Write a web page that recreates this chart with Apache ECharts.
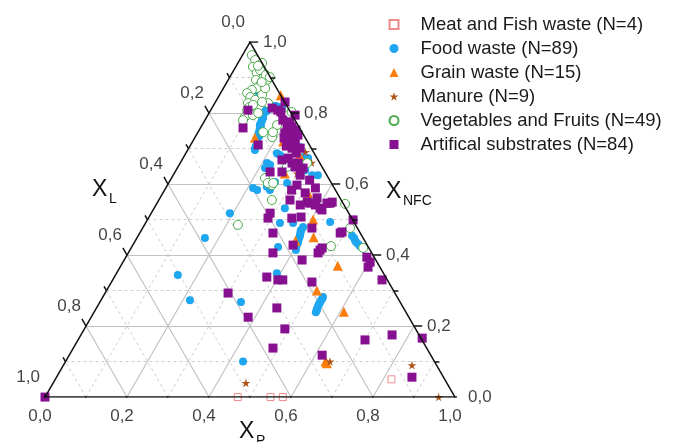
<!DOCTYPE html>
<html>
<head>
<meta charset="utf-8">
<script src="https://cdn.jsdelivr.net/npm/echarts@6/dist/echarts.min.js"></script>
<style>
  html, body { margin: 0; padding: 0; background: #fff; }
  #chart { width: 674px; height: 442px; }
</style>
</head>
<body>
<div id="chart"></div>
<script>
// Ternary compositions, each point stored as [X_P, X_NFC]; X_L = 1 - X_P - X_NFC.
const meatFish = [[0.47, 0], [0.55, 0], [0.58, 0], [0.82, 0.05]];

const foodWaste = [
  [0.155, 0.724], [0.154, 0.732], [0.15, 0.741], [0.148, 0.749], [0.145, 0.758], [0.141, 0.766],
  [0.14, 0.775], [0.138, 0.783], [0.136, 0.792], [0.134, 0.8], [0.135, 0.808], [0.137, 0.814],
  [0.14, 0.817], [0.146, 0.82], [0.153, 0.82], [0.162, 0.817], [0.171, 0.814], [0.162, 0.715],
  [0.161, 0.707], [0.155, 0.735], [0.145, 0.763], [0.14, 0.777], [0.135, 0.803], [0.144, 0.814],
  [0.152, 0.817], [0.161, 0.814], [0.151, 0.746], [0.139, 0.786], [0.138, 0.806],
  [0.405, 0.414], [0.4, 0.425], [0.399, 0.437], [0.396, 0.448], [0.393, 0.459], [0.389, 0.47],
  [0.39, 0.479], [0.395, 0.453], [0.4, 0.431], [0.391, 0.465],
  [0.541, 0.239], [0.539, 0.248], [0.538, 0.256], [0.538, 0.265], [0.537, 0.273], [0.537, 0.282],
  [0.537, 0.262], [0.541, 0.245], [0.538, 0.276],
  [0.522, 0.454], [0.535, 0.442], [0.548, 0.431], [0.449, 0.493], [0.54, 0.437], [0.556, 0.425],
  [0.53, 0.448],
  [0.166, 0.448], [0.152, 0.344], [0.217, 0.273], [0.344, 0.268], [0.433, 0.1], [0.192, 0.518],
  [0.328, 0.49], [0.36, 0.49], [0.357, 0.423], [0.391, 0.349],
  [0.094, 0.856], [0.162, 0.7], [0.212, 0.659], [0.222, 0.654], [0.222, 0.687], [0.246, 0.668],
  [0.213, 0.589], [0.226, 0.583], [0.245, 0.592], [0.353, 0.625], [0.339, 0.625], [0.289, 0.603],
  [0.291, 0.676], [0.24, 0.676], [0.257, 0.583], [0.315, 0.639], [0.27, 0.704], [0.305, 0.673],
  [0.214, 0.645], [0.258, 0.606], [0.319, 0.532], [0.267, 0.696], [0.232, 0.682], [0.164, 0.696]
];

const grainWaste = [
  [0.15, 0.85], [0.188, 0.78], [0.147, 0.73], [0.221, 0.72], [0.281, 0.68], [0.27, 0.63],
  [0.354, 0.575], [0.404, 0.5], [0.43, 0.45], [0.391, 0.44], [0.529, 0.37], [0.513, 0.3],
  [0.609, 0.24], [0.634, 0.1], [0.64, 0.095]
];

const manure = [
  [0.47, 0.04], [0.645, 0.1], [0.85, 0.09], [0.96, 0], [0.32, 0.66], [0.3, 0.63],
  [0.226, 0.76], [0.29, 0.69], [0.25, 0.7]
];

const vegFruits = [
  [0.023, 0.963], [0.038, 0.949], [0.042, 0.93], [0.06, 0.913], [0.064, 0.921], [0.083, 0.899],
  [0.095, 0.893], [0.068, 0.893], [0.085, 0.879], [0.082, 0.87], [0.072, 0.865], [0.065, 0.856],
  [0.078, 0.845], [0.094, 0.837], [0.081, 0.828], [0.089, 0.808], [0.093, 0.789], [0.11, 0.794],
  [0.13, 0.828], [0.188, 0.732], [0.196, 0.794], [0.183, 0.766], [0.228, 0.617], [0.255, 0.597],
  [0.276, 0.555], [0.228, 0.485], [0.506, 0.476], [0.485, 0.425], [0.566, 0.42], [0.46, 0.544],
  [0.266, 0.648], [0.104, 0.851], [0.12, 0.8], [0.093, 0.78], [0.059, 0.941], [0.053, 0.933],
  [0.102, 0.87], [0.085, 0.907], [0.09, 0.817], [0.2, 0.803], [0.31, 0.659], [0.242, 0.603],
  [0.255, 0.603], [0.159, 0.746], [0.183, 0.746], [0.098, 0.901], [0.085, 0.887], [0.096, 0.823],
  [0.114, 0.831]
];

const artificial = [
  [0.17, 0.831], [0.213, 0.794], [0.147, 0.814], [0.164, 0.808], [0.19, 0.78], [0.21, 0.761],
  [0.225, 0.746], [0.213, 0.744], [0.228, 0.73], [0.239, 0.732], [0.253, 0.715], [0.252, 0.701],
  [0.244, 0.668], [0.273, 0.659], [0.288, 0.659], [0.286, 0.648], [0.307, 0.645], [0.34, 0.611],
  [0.316, 0.597], [0.31, 0.583], [0.347, 0.575], [0.365, 0.549], [0.32, 0.555], [0.383, 0.561],
  [0.415, 0.546], [0.426, 0.549], [0.405, 0.532], [0.091, 0.808], [0.104, 0.758], [0.165, 0.71],
  [0.232, 0.634], [0.261, 0.634], [0.29, 0.518], [0.292, 0.504], [0.35, 0.504], [0.373, 0.546],
  [0.412, 0.527], [0.422, 0.546], [0.413, 0.476], [0.391, 0.428], [0.325, 0.462], [0.353, 0.406],
  [0.434, 0.386], [0.464, 0.414], [0.463, 0.406], [0.489, 0.462], [0.588, 0.394], [0.603, 0.38],
  [0.605, 0.366], [0.657, 0.33], [0.372, 0.338], [0.403, 0.33], [0.415, 0.33], [0.489, 0.324],
  [0.3, 0.293], [0.44, 0.251], [0.383, 0.225], [0.489, 0.192], [0.487, 0.138], [0.617, 0.118],
  [0.7, 0.161], [0.759, 0.175], [0.837, 0.166], [0.867, 0.056], [0.502, 0.499], [0.492, 0.465],
  [0.371, 0.507], [0.466, 0.42], [0, 0],
  [0.21, 0.775], [0.222, 0.761], [0.236, 0.752], [0.248, 0.738], [0.241, 0.718], [0.235, 0.707],
  [0.272, 0.701], [0.269, 0.687], [0.257, 0.673], [0.31, 0.625], [0.365, 0.589], [0.352, 0.541],
  [0.174, 0.803], [0.218, 0.73], [0.389, 0.541]
];

// Axis ticks and their printed labels (decimal comma)
const tickValues = [0, 0.1, 0.2, 0.3, 0.4, 0.5, 0.6, 0.7, 0.8, 0.9, 1];
const tickLabels = ['0,0', '0,2', '0,4', '0,6', '0,8', '1,0'];

const FONT = '"Liberation Sans", Arial, Helvetica, sans-serif';
const H = Math.sqrt(3) / 2;

// ternary (X_P, X_NFC) -> cartesian position inside the unit triangle
function toXY(p, n) { return [p + n / 2, n * H]; }

const seriesDefs = [
  { name: 'Meat and Fish waste (N=4)', data: meatFish, symbol: 'rect', size: 7,
    style: { color: '#fff', borderColor: '#f08a8a', borderWidth: 1 } },
  { name: 'Food waste (N=89)', data: foodWaste, symbol: 'circle', size: 8,
    style: { color: '#1ea6f0' } },
  { name: 'Grain waste (N=15)', data: grainWaste, symbol: 'triangle', size: 10,
    style: { color: '#fb7d0c' } },
  { name: 'Manure (N=9)', data: manure,
    symbol: 'path://M50,0 L61,35 L98,35 L68,57 L79,91 L50,70 L21,91 L32,57 L2,35 L39,35 Z', size: 9,
    style: { color: '#b0561c' } },
  { name: 'Vegetables and Fruits (N=49)', data: vegFruits, symbol: 'circle', size: 9,
    style: { color: '#fff', borderColor: '#4cab4c', borderWidth: 1 } },
  { name: 'Artifical substrates (N=84)', data: artificial, symbol: 'rect', size: 9,
    style: { color: '#86108f' } }
];

// Grid lines: solid every 0.2, dashed in between, in the three ternary directions
const majorGrid = [], minorGrid = [];
for (let k = 1; k < 10; k++) {
  const t = k / 10;
  const bucket = k % 2 === 0 ? majorGrid : minorGrid;
  bucket.push({ coords: [toXY(0, t), toXY(1 - t, t)] });     // constant X_NFC
  bucket.push({ coords: [toXY(t, 0), toXY(t, 1 - t)] });     // constant X_P
  bucket.push({ coords: [toXY(1 - t, 0), toXY(0, 1 - t)] }); // constant X_L
}

// Triangle frame and outward ticks
const frame = [
  { coords: [toXY(0, 0), toXY(1, 0)] },
  { coords: [toXY(1, 0), toXY(0, 1)] },
  { coords: [toXY(0, 1), toXY(0, 0)] }
];
const bottomPts = [], leftPts = [], rightPts = [];
tickValues.forEach((t, i) => {
  const len = i % 2 === 0 ? 0.02 : 0.012;
  const b = toXY(t, 0);
  frame.push({ coords: [b, [b[0] - 0.5 * len, b[1] - H * len]] });
  const l = toXY(0, 1 - t);
  frame.push({ coords: [l, [l[0] - 0.5 * len, l[1] + H * len]] });
  const r = toXY(1 - t, t);
  frame.push({ coords: [r, [r[0] + len, r[1]]] });
  if (i % 2 === 0) {
    const lab = tickLabels[i / 2];
    bottomPts.push({ value: b, name: lab });
    leftPts.push({ value: l, name: lab });
    rightPts.push({ value: toXY(1 - t, t), name: lab });
  }
});

function labelSeries(data, label) {
  return {
    type: 'scatter', data, symbolSize: 1, silent: true, z: 5,
    itemStyle: { color: 'transparent' },
    label: Object.assign({ show: true, formatter: p => p.name, fontFamily: FONT,
      fontSize: 17, color: '#111' }, label)
  };
}

const series = [
  { type: 'lines', coordinateSystem: 'cartesian2d', silent: true, z: 1, data: minorGrid,
    lineStyle: { color: '#cdcdcd', width: 1, type: [3, 3], opacity: 1 } },
  { type: 'lines', coordinateSystem: 'cartesian2d', silent: true, z: 1, data: majorGrid,
    lineStyle: { color: '#c2c2c2', width: 1.2, type: 'solid', opacity: 1 } },
  { type: 'lines', coordinateSystem: 'cartesian2d', silent: true, z: 4, data: frame,
    lineStyle: { color: '#111', width: 1.5, type: 'solid', opacity: 1 } },
  labelSeries(bottomPts, { align: 'center', verticalAlign: 'middle', offset: [-5, 19] }),
  labelSeries(leftPts, { align: 'right', verticalAlign: 'middle', offset: [-5, -20] }),
  labelSeries(rightPts, { align: 'left', verticalAlign: 'middle', offset: [13, 0] })
];

seriesDefs.forEach(d => {
  series.push({
    type: 'scatter', name: d.name, z: 3,
    data: d.data.map(v => toXY(v[0], v[1])),
    symbol: d.symbol, symbolSize: d.size, symbolKeepAspect: true,
    itemStyle: Object.assign({ opacity: 1 }, d.style)
  });
});

function title(x, y, main, sub) {
  return [
    { type: 'text', x, y, style: { text: main, font: '23px ' + FONT, fill: '#111' } },
    { type: 'text', x: x + 17, y: y + 14, style: { text: sub, font: '14px ' + FONT, fill: '#111' } }
  ];
}

const chart = echarts.init(document.getElementById('chart'), null, { renderer: 'canvas' });
chart.setOption({
  animation: false,
  backgroundColor: '#fff',
  grid: { left: 45, top: 42, width: 410, height: 410 * H },
  xAxis: { type: 'value', min: 0, max: 1, show: false },
  yAxis: { type: 'value', min: 0, max: H, show: false },
  legend: {
    orient: 'vertical', left: 388.5, top: 14.5, padding: 0,
    itemWidth: 9, itemHeight: 9, itemGap: 4,
    data: seriesDefs.map(d => d.name),
    textStyle: { fontFamily: FONT, fontSize: 18.5, color: '#1a1a1a', lineHeight: 20,
      padding: [0, 0, 0, 17] }
  },
  graphic: [].concat(
    title(92, 178, 'X', 'L'),
    title(386, 180, 'X', 'NFC'),
    title(239, 420, 'X', 'P')
  ),
  series
});
</script>
</body>
</html>
